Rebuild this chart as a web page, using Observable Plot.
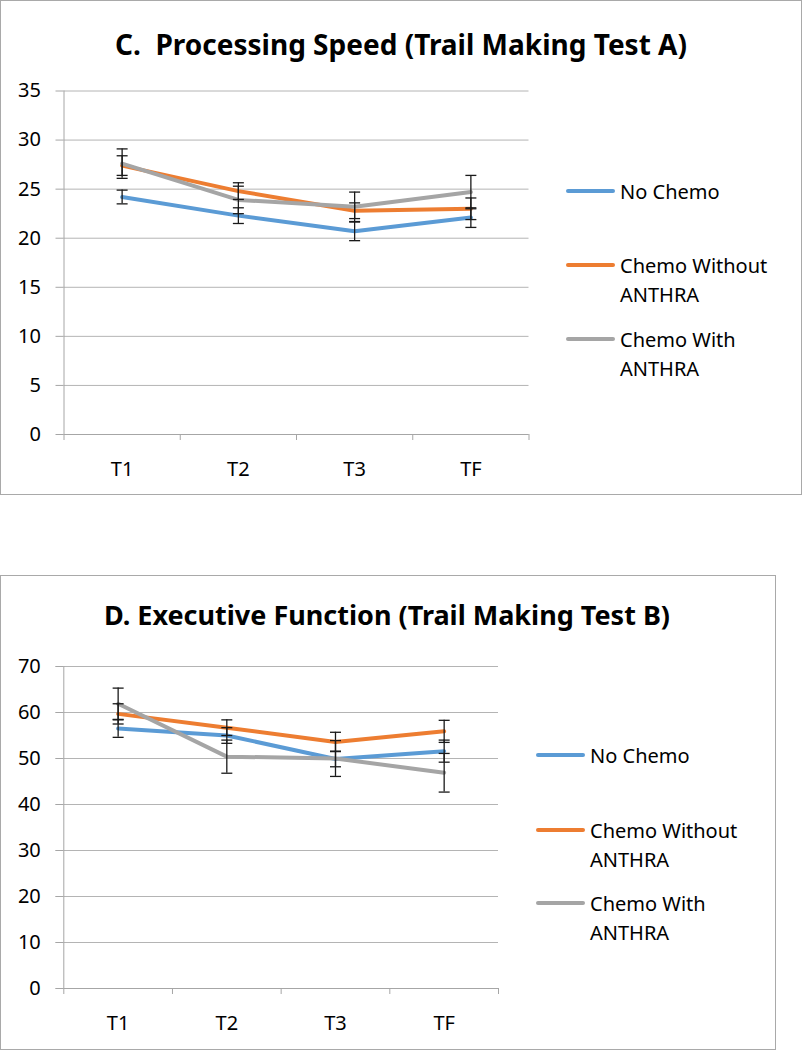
<!DOCTYPE html>
<html>
<head>
<meta charset="utf-8">
<script src="https://cdn.jsdelivr.net/npm/d3@7"></script>
<script src="https://cdn.jsdelivr.net/npm/@observablehq/plot@0.6"></script>
<style>
  html, body { margin: 0; padding: 0; background: #fff; }
  body { width: 802px; height: 1050px; position: relative; overflow: hidden; font-family: "Noto Sans", sans-serif; }
  .box { position: absolute; border: 1px solid #a9a9a9; box-sizing: border-box; }
  .plot { position: absolute; }
  .title { position: absolute; text-align: center; font-weight: 700; color: #000; white-space: pre; }
  .legend { position: absolute; font-size: 20px; color: #000; }
  .legend .swatch { position: absolute; width: 49px; height: 4px; border-radius: 2px; }
  .legend .label { position: absolute; }
</style>
</head>
<body>
<div id="root"></div>
<script>
// ---------- data ----------
const categories = ["T1", "T2", "T3", "TF"];
const seriesNames = ["No Chemo", "Chemo Without ANTHRA", "Chemo With ANTHRA"];
const seriesColors = ["#5B9BD5", "#ED7D31", "#A5A5A5"];

// C. Processing Speed (Trail Making Test A)
const noChemoA = [24.2, 22.3, 20.7, 22.1];
const noChemoAErr = [0.7, 0.8, 0.95, 1.0];
const withoutA = [27.4, 24.8, 22.8, 23.0];
const withoutAErr = [1.0, 0.85, 0.8, 1.1];
const withA = [27.6, 23.9, 23.2, 24.7];
const withAErr = [1.5, 1.4, 1.5, 1.7];
const yTicksA = [0, 5, 10, 15, 20, 25, 30, 35];

// D. Executive Function (Trail Making Test B)
const noChemoB = [56.5, 55.0, 49.9, 51.6];
const noChemoBErr = [1.9, 1.7, 1.7, 2.4];
const withoutB = [59.7, 56.7, 53.6, 55.9];
const withoutBErr = [2.2, 1.7, 2.1, 2.4];
const withB = [61.9, 50.4, 50.0, 46.9];
const withBErr = [3.4, 3.6, 3.9, 4.2];
const yTicksB = [0, 10, 20, 30, 40, 50, 60, 70];

// ---------- helpers ----------
function table(values, errs) {
  const rows = [];
  values.forEach((vals, s) => {
    vals.forEach((v, i) => rows.push({series: seriesNames[s], i, cat: categories[i], v, e: errs[s][i]}));
  });
  return rows;
}

const capSymbol = {
  draw(ctx, size) {
    const r = Math.sqrt(size / Math.PI);
    ctx.moveTo(-r, 0);
    ctx.lineTo(r, 0);
  }
};

function makeChart({rows, yTicks, width, height, margins}) {
  const n = categories.length;
  const idx = categories.map((_, i) => i);
  const bounds = [...idx.map(i => i - 0.5), n - 0.5];
  const caps = rows.flatMap(d => [{i: d.i, y: d.v + d.e}, {i: d.i, y: d.v - d.e}]);
  return Plot.plot({
    width, height,
    marginLeft: margins[3], marginRight: margins[1], marginTop: margins[0], marginBottom: margins[2],
    style: {fontFamily: "Noto Sans, sans-serif", fontSize: "20px", color: "#000", background: "transparent", overflow: "visible"},
    x: {type: "linear", domain: [-0.5, n - 0.5]},
    y: {domain: [yTicks[0], yTicks[yTicks.length - 1]]},
    color: {domain: seriesNames, range: seriesColors},
    marks: [
      Plot.gridY(yTicks, {stroke: "#b4b4b4", strokeOpacity: 1, strokeWidth: 1}),
      Plot.axisY({ticks: yTicks, tickSize: 8, tickPadding: 15, stroke: "#a6a6a6", strokeOpacity: 1, label: null, fontSize: 20, fill: "#000"}),
      Plot.axisX({ticks: bounds, tickSize: 6, tickFormat: () => "", stroke: "#a6a6a6", strokeOpacity: 1, label: null}),
      Plot.axisX({ticks: idx, tickSize: 0, tickPadding: 27, tickFormat: i => categories[i], label: null, fontSize: 20, fill: "#000"}),
      Plot.ruleX([-0.5], {stroke: "#a6a6a6", strokeWidth: 1}),
      Plot.ruleY([yTicks[0]], {stroke: "#a6a6a6", strokeWidth: 1}),
      Plot.line(rows, {x: "i", y: "v", stroke: "series", z: "series", strokeWidth: 4, strokeLinejoin: "round", strokeLinecap: "round"}),
      Plot.ruleX(rows, {x: "i", y1: d => d.v - d.e, y2: d => d.v + d.e, stroke: "#1a1a1a", strokeWidth: 1.3}),
      Plot.dot(caps, {x: "i", y: "y", symbol: capSymbol, r: 5.5, stroke: "#1a1a1a", strokeWidth: 1.3, fill: "none"})
    ]
  });
}

function addBox(left, top, w, h) {
  const b = document.createElement("div");
  b.className = "box";
  Object.assign(b.style, {left: left + "px", top: top + "px", width: w + "px", height: h + "px"});
  document.body.appendChild(b);
}
function addTitle(text, centerX, top, size) {
  const t = document.createElement("div");
  t.className = "title";
  t.textContent = text;
  Object.assign(t.style, {top: top + "px", fontSize: size + "px", lineHeight: "36px"});
  document.body.appendChild(t);
  const w = t.getBoundingClientRect().width;
  t.style.left = (centerX - w / 2) + "px";
}
function addLegend(left, rowTops) {
  const lg = document.createElement("div");
  lg.className = "legend";
  Object.assign(lg.style, {left: left + "px", top: "0px"});
  const labels = [["No Chemo"], ["Chemo Without", "ANTHRA"], ["Chemo With", "ANTHRA"]];
  labels.forEach((lines, s) => {
    const sw = document.createElement("div");
    sw.className = "swatch";
    Object.assign(sw.style, {left: "0px", top: (rowTops[s] - 2) + "px", background: seriesColors[s]});
    lg.appendChild(sw);
    lines.forEach((ln, k) => {
      const l = document.createElement("div");
      l.className = "label";
      l.textContent = ln;
      Object.assign(l.style, {left: "54px", top: (rowTops[s] + k * 29.5 - 14.5) + "px", lineHeight: "29px", whiteSpace: "nowrap"});
      lg.appendChild(l);
    });
  });
  document.body.appendChild(lg);
}

// ---------- chart C ----------
addBox(0, 0, 802, 495);
const chartA = makeChart({
  rows: table([noChemoA, withoutA, withA], [noChemoAErr, withoutAErr, withAErr]),
  yTicks: yTicksA, width: 802, height: 495, margins: [90.5, 273.5, 61, 63.5]
});
chartA.classList.add("plot");
Object.assign(chartA.style, {left: "0px", top: "0px"});
document.body.appendChild(chartA);
addTitle("C.  Processing Speed (Trail Making Test A)", 401, 26, 28);
addLegend(566, [191, 265, 339]);

// ---------- chart D ----------
addBox(0, 575, 776, 475);
const chartB = makeChart({
  rows: table([noChemoB, withoutB, withB], [noChemoBErr, withoutBErr, withBErr]),
  yTicks: yTicksB, width: 776, height: 475, margins: [91, 278, 62, 63.3]
});
chartB.classList.add("plot");
Object.assign(chartB.style, {left: "0px", top: "575px"});
document.body.appendChild(chartB);
addTitle("D. Executive Function (Trail Making Test B)", 387, 597, 27);
addLegend(536, [755, 830, 903]);
</script>
</body>
</html>
